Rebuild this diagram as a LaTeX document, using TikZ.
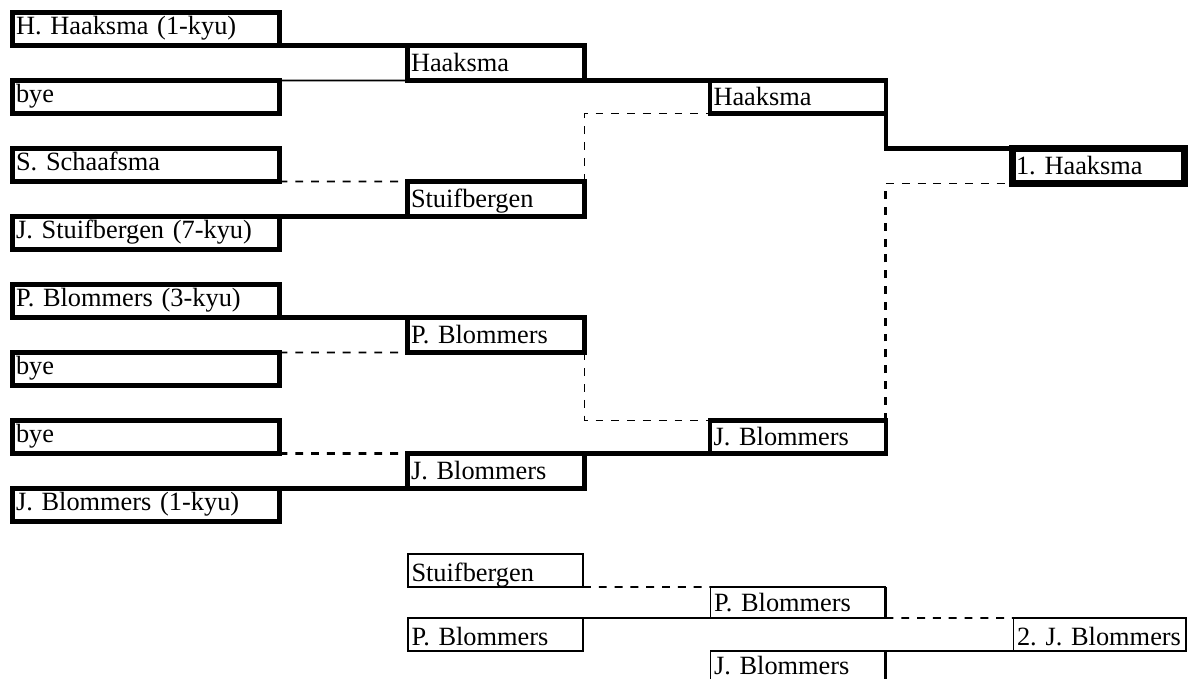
\documentclass[tikz,border=0pt]{standalone}
\usepackage{fontspec}
\setmainfont{Liberation Serif}
\frenchspacing

\tikzset{
  entry/.style={rectangle, anchor=north west, outer sep=0pt, inner xsep=0.07cm, inner ysep=0pt, align=left,
    text depth=0pt, font=\fontsize{15pt}{18pt}\selectfont},
  player/.style={entry, draw, line width=2.6pt, minimum width=5.34cm, text width=5.2cm, minimum height=0.66cm,
    text height=6.8pt},
  winner/.style={entry, draw, line width=2.6pt, minimum width=3.54cm, text width=3.4cm, text height=9.6pt},
  champion/.style={entry, draw, line width=4pt, minimum width=3.44cm, text width=3.3cm, minimum height=0.7cm,
    text height=10.2pt},
  plain/.style={entry, draw, line width=0.9pt, minimum width=3.5cm, text width=3.36cm, text height=12.5pt},
  won/.style={line width=2.6pt},
  lost/.style={line width=0.9pt},
  lostdash/.style={line width=0.9pt, dash pattern=on 4.5pt off 4.5pt},
  lostbold/.style={line width=1.7pt, dash pattern=on 4.5pt off 4.5pt}
}

\begin{document}
\begin{tikzpicture}[x=0.02cm, y=-0.02cm]
\useasboundingbox (0,0) rectangle (1188,679);

% first round
\node[player] (p1) at (12.5,12.5) {H. Haaksma (1-kyu)};
\node[player] (p2) at (12.5,80.5) {bye};
\node[player] (p3) at (12.5,148.5) {S. Schaafsma};
\node[player] (p4) at (12.5,216.5) {J. Stuifbergen (7-kyu)};
\node[player] (p5) at (12.5,284.5) {P. Blommers (3-kyu)};
\node[player] (p6) at (12.5,352.5) {bye};
\node[player] (p7) at (12.5,420.5) {bye};
\node[player] (p8) at (12.5,488.5) {J. Blommers (1-kyu)};

% second round
\node[winner, minimum height=0.7cm] (r1) at (407.5,45.5) {Haaksma};
\node[winner, minimum height=0.7cm] (r2) at (407.5,181.5) {Stuifbergen};
\node[winner, minimum height=0.7cm] (r3) at (407.5,317.5) {P. Blommers};
\node[winner, minimum height=0.7cm] (r4) at (407.5,453.5) {J. Blommers};

\draw[won] (p1.south east) -- (r1.north west);
\draw[lost] (p2.north east) -- (r1.south west);
\draw[lostdash] (p3.south east) -- (r2.north west);
\draw[won] (p4.north east) -- (r2.south west);
\draw[won] (p5.south east) -- (r3.north west);
\draw[lostdash] (p6.north east) -- (r3.south west);
\draw[lostbold] (p7.south east) -- (r4.north west);
\draw[won] (p8.north east) -- (r4.south west);

% semi final
\node[winner, minimum width=3.52cm, text width=3.38cm, minimum height=0.66cm] (s1) at (710,80.5) {Haaksma};
\node[winner, minimum width=3.52cm, text width=3.38cm, minimum height=0.66cm] (s2) at (710,420.5) {J. Blommers};

\draw[won] (r1.south east) -- (s1.north west);
\draw[lostdash] (r2.north east) |- (s1.south west);
\draw[lostdash] (r3.south east) |- (s2.north west);
\draw[won] (r4.north east) -- (s2.south west);

% final
\node[champion] (f1) at (1012.5,148.5) {1. Haaksma};
\coordinate (fc) at (s2.north east |- f1.south west);
\draw[won] (s1.south east) |- (f1.north west);
\draw[lostbold] (s2.north east) -- (fc);
\draw[lostdash] (fc) -- (f1.south west);

% second place
\node[plain, minimum height=0.66cm] (c1) at (408,554) {Stuifbergen};
\node[plain, minimum height=0.66cm] (c2) at (408,618) {P. Blommers};
\node[plain, minimum height=0.62cm, text height=10.2pt] (d1) at (710.5,587) {P. Blommers};
\node[plain, minimum height=0.6cm, text height=10.2pt] (d2) at (710.5,651) {J. Blommers};
\node[plain, minimum width=3.45cm, text width=3.31cm, minimum height=0.66cm] (e1) at (1013.5,618) {2. J. Blommers};

\draw[line width=1.7pt] (d1.north east) -- (d1.south east);
\draw[line width=1.7pt] (d2.north east) -- (d2.south east);
\draw[lostdash] (c1.south east) -- (d1.north west);
\draw[lost] (c2.north east) -- (d1.south west);
\draw[lostdash] (d1.south east) -- (e1.north west);
\draw[lost] (d2.north east) -- (e1.south west);

\end{tikzpicture}
\end{document}
